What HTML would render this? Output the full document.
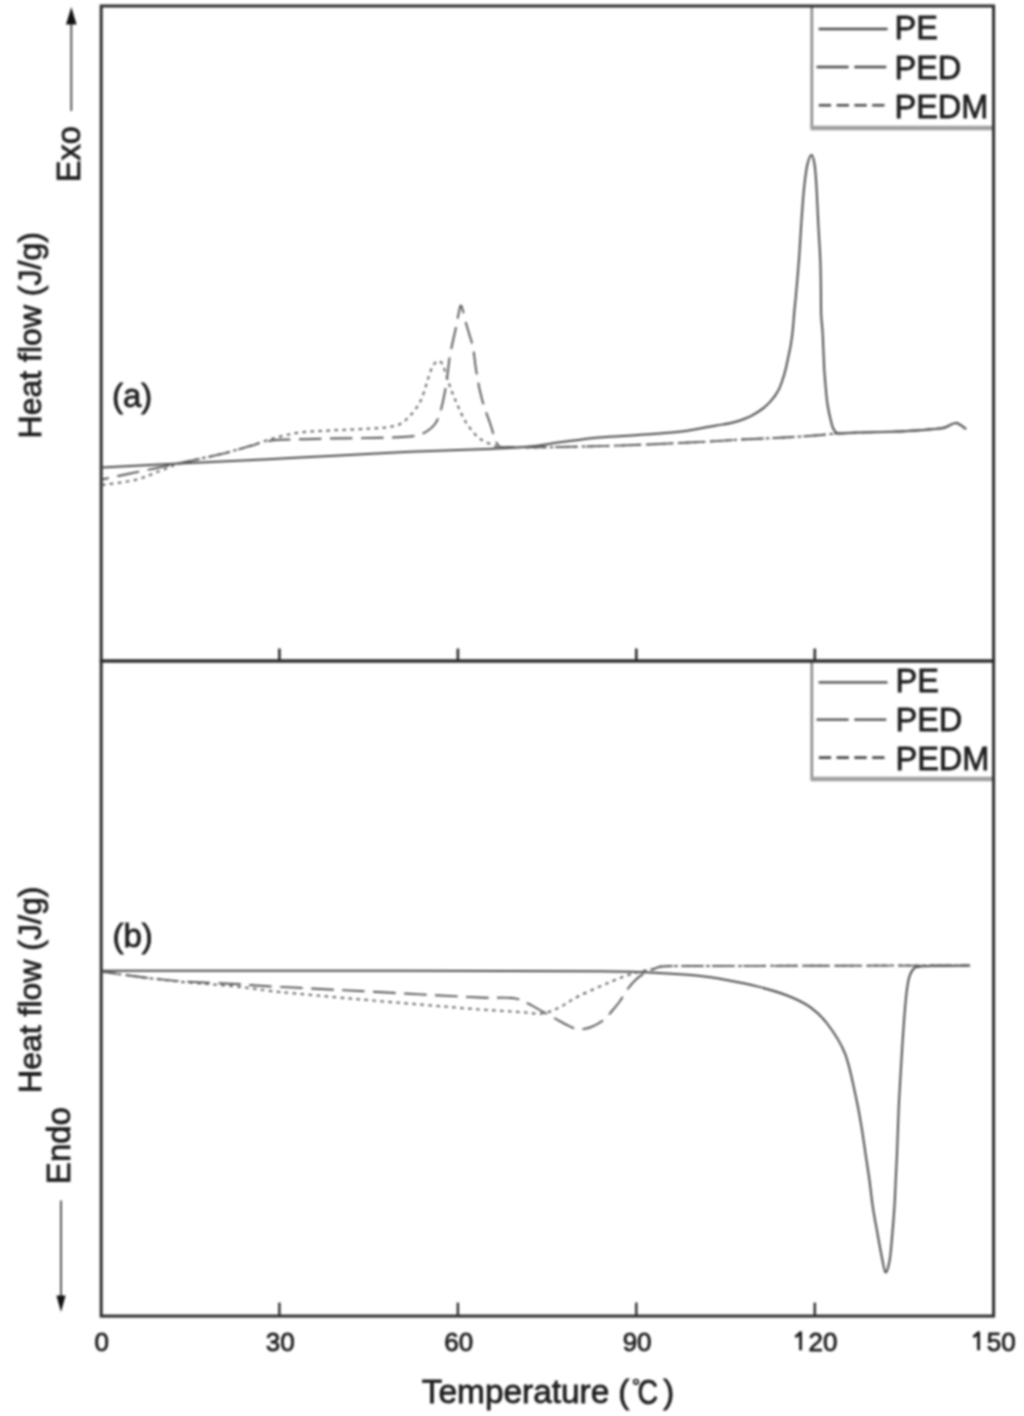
<!DOCTYPE html>
<html><head><meta charset="utf-8"><title>DSC curves</title><style>
html,body{margin:0;padding:0;background:#fff;width:1024px;height:1416px;overflow:hidden;}
svg{display:block;filter:blur(0.9px);}
text{font-family:"Liberation Sans",sans-serif;fill:#1e1e1e;stroke:#1e1e1e;stroke-width:0.8px;}
</style></head><body>
<svg width="1024" height="1416" viewBox="0 0 1024 1416">
<rect width="1024" height="1416" fill="#fff"/>
<rect x="812" y="6.0" width="181" height="122.0" fill="#fff" stroke="none"/>
<line x1="811.8" y1="6.0" x2="811.8" y2="128.0" stroke="#8a8a8a" stroke-width="2.6"/>
<line x1="810.5" y1="128.0" x2="993" y2="128.0" stroke="#a0a0a0" stroke-width="4.4"/>
<line x1="818.6" y1="29.0" x2="887.5" y2="29.0" stroke="#4a4a4a" stroke-width="2.4"/>
<line x1="816.6" y1="67.0" x2="887" y2="67.0" stroke="#4a4a4a" stroke-width="2.4" stroke-dasharray="32 5.7"/>
<line x1="818.8" y1="105.3" x2="886" y2="105.3" stroke="#4a4a4a" stroke-width="2.6" stroke-dasharray="12.3 5.5"/>
<text x="894.5" y="38.7" font-size="32.5">PE</text>
<text x="894.5" y="78.8" font-size="32.5">PED</text>
<text x="894.5" y="118.0" font-size="32.5">PEDM</text>
<rect x="812" y="661.0" width="181" height="118.0" fill="#fff" stroke="none"/>
<line x1="811.8" y1="661.0" x2="811.8" y2="779.0" stroke="#8a8a8a" stroke-width="2.6"/>
<line x1="810.5" y1="779.0" x2="993" y2="779.0" stroke="#a0a0a0" stroke-width="4.4"/>
<line x1="818.6" y1="682.4" x2="887.5" y2="682.4" stroke="#4a4a4a" stroke-width="2.4"/>
<line x1="816.6" y1="719.6" x2="887" y2="719.6" stroke="#4a4a4a" stroke-width="2.4" stroke-dasharray="32 5.7"/>
<line x1="818.8" y1="757.6" x2="886" y2="757.6" stroke="#4a4a4a" stroke-width="2.6" stroke-dasharray="12.3 5.5"/>
<text x="895.5" y="691.6" font-size="32.5">PE</text>
<text x="895.5" y="731.4" font-size="32.5">PED</text>
<text x="895.5" y="770.3" font-size="32.5">PEDM</text>
<rect x="101.2" y="6.0" width="892.4" height="655.0" fill="none" stroke="#2c2c2c" stroke-width="3"/>
<rect x="101.2" y="661.0" width="892.4" height="655.1" fill="none" stroke="#2c2c2c" stroke-width="3"/>
<line x1="279.4" y1="661.0" x2="279.4" y2="648.5" stroke="#2c2c2c" stroke-width="2.6"/>
<line x1="279.4" y1="1316.1" x2="279.4" y2="1302.6" stroke="#2c2c2c" stroke-width="2.4"/>
<line x1="457.9" y1="661.0" x2="457.9" y2="648.5" stroke="#2c2c2c" stroke-width="2.6"/>
<line x1="457.9" y1="1316.1" x2="457.9" y2="1302.6" stroke="#2c2c2c" stroke-width="2.4"/>
<line x1="636.3" y1="661.0" x2="636.3" y2="648.5" stroke="#2c2c2c" stroke-width="2.6"/>
<line x1="636.3" y1="1316.1" x2="636.3" y2="1302.6" stroke="#2c2c2c" stroke-width="2.4"/>
<line x1="814.8" y1="661.0" x2="814.8" y2="648.5" stroke="#2c2c2c" stroke-width="2.6"/>
<line x1="814.8" y1="1316.1" x2="814.8" y2="1302.6" stroke="#2c2c2c" stroke-width="2.4"/>
<path d="M102.0,467.4 C118.3,466.6 167.0,464.1 200.0,462.5 C233.0,460.9 266.7,459.3 300.0,457.6 C333.3,455.9 370.0,453.7 400.0,452.3 C430.0,450.9 461.7,449.9 480.0,449.2 C498.3,448.5 500.8,448.4 510.0,447.9 C519.2,447.4 526.7,446.9 535.0,446.0 C543.3,445.1 549.3,443.7 560.0,442.3 C570.7,440.9 586.0,438.6 599.0,437.4 C612.0,436.2 625.0,435.9 638.0,435.0 C651.0,434.1 666.7,433.1 677.0,432.0 C687.3,430.9 693.5,429.6 700.0,428.5 C706.5,427.4 711.0,426.5 716.0,425.6 C721.0,424.7 726.0,424.1 730.0,423.2 C734.0,422.3 736.4,421.8 740.0,420.5 C743.6,419.2 747.8,417.8 751.7,415.7 C755.6,413.6 760.5,410.3 763.4,408.1 C766.3,405.9 767.3,404.7 769.3,402.6 C771.2,400.5 773.4,398.1 775.1,395.6 C776.8,393.1 778.3,390.6 779.6,387.8 C780.9,385.0 781.9,381.9 782.9,378.8 C783.9,375.8 784.7,373.1 785.6,369.5 C786.5,365.9 787.4,361.3 788.3,357.0 C789.2,352.7 790.2,348.5 791.0,343.6 C791.8,338.7 792.5,333.0 793.0,327.7 C793.5,322.4 793.9,316.6 794.3,311.8 C794.7,307.0 795.1,304.3 795.6,299.0 C796.1,293.7 796.7,287.3 797.3,280.0 C797.9,272.7 798.7,263.7 799.3,255.0 C799.9,246.3 800.4,237.2 801.0,228.0 C801.6,218.8 802.4,207.3 803.0,200.0 C803.6,192.7 803.8,190.0 804.5,184.0 C805.2,178.0 806.3,168.8 807.5,164.0 C808.7,159.2 810.3,155.0 811.5,155.0 C812.7,155.0 813.7,159.2 814.5,164.0 C815.3,168.8 815.6,173.3 816.3,184.0 C817.0,194.7 817.8,215.3 818.5,228.0 C819.2,240.7 819.9,249.7 820.3,260.0 C820.7,270.3 820.8,280.8 820.9,290.0 C821.0,299.2 820.9,308.2 821.2,315.0 C821.5,321.8 822.1,325.2 822.5,331.0 C822.9,336.8 823.1,343.7 823.4,350.0 C823.7,356.3 823.9,363.2 824.2,369.0 C824.6,374.8 825.0,379.3 825.5,385.0 C826.0,390.7 826.5,397.5 827.3,403.0 C828.1,408.5 829.2,413.8 830.2,418.0 C831.2,422.2 832.0,425.6 833.0,428.0 C834.0,430.4 834.8,431.3 836.0,432.2 C837.2,433.1 836.5,433.3 840.0,433.4 C843.5,433.5 847.7,432.9 857.0,432.6 C866.3,432.3 883.0,432.2 896.0,431.6 C909.0,431.0 926.8,429.6 935.0,428.9 C943.2,428.2 941.5,428.5 945.0,427.5 C948.5,426.5 952.5,422.8 956.0,423.0 C959.5,423.2 964.3,428.0 966.0,429.0" fill="none" stroke="#4a4a4a" stroke-width="2.0" stroke-linejoin="round"/>
<path d="M102.0,479.5 C106.5,478.5 119.8,475.6 129.0,473.7 C138.2,471.8 148.5,469.8 157.0,468.0 C165.5,466.2 169.3,465.3 180.0,463.0 C190.7,460.7 209.7,456.9 221.0,454.2 C232.3,451.5 241.2,448.6 248.0,446.7 C254.8,444.8 257.3,443.7 262.0,442.6 C266.7,441.5 269.7,440.6 276.0,440.0 C282.3,439.4 291.0,439.6 300.0,439.3 C309.0,439.1 316.7,438.8 330.0,438.5 C343.3,438.2 366.7,438.1 380.0,437.8 C393.3,437.5 403.3,437.1 410.0,436.5 C416.7,435.9 417.0,435.5 420.0,434.5 C423.0,433.5 425.5,432.2 428.0,430.5 C430.5,428.8 433.0,426.9 435.0,424.0 C437.0,421.1 438.4,418.0 440.0,413.0 C441.6,408.0 443.3,400.2 444.5,394.0 C445.7,387.8 446.4,382.2 447.3,376.0 C448.2,369.8 448.8,362.5 449.7,357.0 C450.6,351.5 451.5,347.8 452.5,343.0 C453.5,338.2 454.9,332.8 455.9,328.0 C456.9,323.2 457.7,317.8 458.5,314.0 C459.3,310.2 459.9,306.0 460.6,305.5 C461.4,305.0 462.1,308.0 463.0,311.0 C463.9,314.0 465.0,319.5 466.1,323.5 C467.2,327.5 468.3,330.9 469.5,335.0 C470.7,339.1 472.0,342.2 473.1,348.0 C474.2,353.8 475.0,363.2 476.1,370.0 C477.2,376.8 478.2,383.0 479.5,389.0 C480.8,395.0 482.2,400.5 484.0,406.2 C485.8,411.9 488.3,418.0 490.0,423.0 C491.7,428.0 492.8,432.6 494.0,436.0 C495.2,439.4 495.8,441.6 497.0,443.5 C498.2,445.4 498.8,446.6 501.0,447.2 C503.2,447.8 505.2,447.0 510.0,447.0 C514.8,447.0 521.7,447.4 530.0,447.4 C538.3,447.4 545.3,447.3 560.0,447.0 C574.7,446.7 598.5,446.2 618.0,445.6 C637.5,445.0 660.7,443.9 677.0,443.1 C693.3,442.4 705.5,441.7 716.0,441.1 C726.5,440.5 729.5,440.2 740.0,439.6 C750.5,439.1 766.0,438.5 779.0,437.8 C792.0,437.1 808.8,436.0 818.0,435.3 C827.2,434.6 827.5,434.1 834.0,433.6 C840.5,433.2 846.7,432.9 857.0,432.6 C867.3,432.3 883.0,432.2 896.0,431.6 C909.0,431.0 926.8,429.6 935.0,428.9 C943.2,428.2 941.5,428.5 945.0,427.5 C948.5,426.5 952.5,422.8 956.0,423.0 C959.5,423.2 964.3,428.0 966.0,429.0" fill="none" stroke="#575757" stroke-width="1.9" stroke-linejoin="round" stroke-dasharray="22.5 8.5" stroke-dashoffset="15.5"/>
<path d="M102.0,485.0 C107.5,484.2 125.3,482.3 135.0,480.0 C144.7,477.7 152.5,473.8 160.0,471.0 C167.5,468.2 169.8,466.3 180.0,463.5 C190.2,460.7 209.7,456.8 221.0,454.0 C232.3,451.2 241.2,448.5 248.0,446.5 C254.8,444.5 257.3,443.5 262.0,442.0 C266.7,440.5 269.7,439.1 276.0,437.5 C282.3,435.9 291.0,433.7 300.0,432.5 C309.0,431.3 316.7,431.2 330.0,430.5 C343.3,429.8 369.2,428.8 380.0,428.0 C390.8,427.2 391.3,426.6 395.0,425.8 C398.7,425.0 399.7,424.4 402.0,423.0 C404.3,421.6 406.7,419.2 408.7,417.2 C410.7,415.2 412.2,413.4 414.0,411.0 C415.8,408.6 417.9,406.2 419.6,403.0 C421.3,399.8 422.6,396.0 424.0,392.0 C425.4,388.0 426.7,383.1 428.0,379.0 C429.3,374.9 430.7,370.3 432.0,367.5 C433.3,364.7 434.9,363.1 436.0,362.0 C437.1,360.9 437.8,360.8 438.8,361.0 C439.8,361.2 441.0,361.8 442.0,363.5 C443.0,365.2 443.7,367.3 445.0,371.0 C446.3,374.7 448.2,381.4 449.7,385.7 C451.2,390.0 452.6,393.6 454.0,397.0 C455.4,400.4 456.5,402.9 458.0,406.2 C459.5,409.5 461.2,413.6 463.0,417.0 C464.8,420.4 466.3,423.2 468.9,426.7 C471.5,430.1 475.2,435.0 478.4,437.7 C481.6,440.4 485.1,441.6 488.0,443.1 C490.9,444.6 493.2,445.8 496.0,446.5 C498.8,447.2 499.3,447.1 505.0,447.2 C510.7,447.3 520.8,447.4 530.0,447.4 C539.2,447.4 545.3,447.3 560.0,447.0 C574.7,446.7 598.5,446.2 618.0,445.6 C637.5,445.0 660.7,443.9 677.0,443.1 C693.3,442.4 705.5,441.7 716.0,441.1 C726.5,440.5 729.5,440.2 740.0,439.6 C750.5,439.1 766.0,438.5 779.0,437.8 C792.0,437.1 808.8,436.0 818.0,435.3 C827.2,434.6 827.5,434.1 834.0,433.6 C840.5,433.2 846.7,432.9 857.0,432.6 C867.3,432.3 883.0,432.2 896.0,431.6 C909.0,431.0 926.8,429.6 935.0,428.9 C943.2,428.2 941.5,428.5 945.0,427.5 C948.5,426.5 952.5,422.8 956.0,423.0 C959.5,423.2 964.3,428.0 966.0,429.0" fill="none" stroke="#606060" stroke-width="2.0" stroke-linejoin="round" stroke-dasharray="3.5 4.5" stroke-dashoffset="0"/>
<path d="M102.0,970.8 C151.7,970.8 317.0,970.7 400.0,970.8 C483.0,970.9 558.3,971.0 600.0,971.3 C641.7,971.6 633.6,971.8 650.0,972.5 C666.4,973.2 685.6,974.5 698.6,975.8 C711.6,977.1 718.1,978.5 727.9,980.3 C737.7,982.1 747.4,983.9 757.2,986.4 C767.0,988.9 777.7,991.8 786.5,995.2 C795.3,998.6 803.1,1002.1 809.9,1006.9 C816.7,1011.7 821.6,1016.2 827.5,1024.0 C833.4,1031.8 840.3,1041.5 845.1,1053.8 C849.9,1066.1 853.4,1085.8 856.1,1098.0 C858.8,1110.2 859.9,1117.5 861.5,1126.8 C863.1,1136.1 864.2,1144.8 865.5,1153.7 C866.8,1162.7 868.3,1171.5 869.5,1180.5 C870.7,1189.5 871.5,1198.5 872.9,1207.4 C874.2,1216.4 876.1,1225.8 877.6,1234.2 C879.1,1242.6 880.7,1251.6 882.0,1258.0 C883.3,1264.4 884.3,1272.2 885.6,1272.5 C886.9,1272.8 888.6,1266.4 889.7,1260.0 C890.8,1253.6 891.5,1243.0 892.3,1234.2 C893.1,1225.4 893.8,1216.4 894.4,1207.4 C895.0,1198.5 895.3,1189.5 895.7,1180.5 C896.1,1171.5 896.6,1162.7 897.0,1153.7 C897.4,1144.8 897.6,1135.8 898.0,1126.8 C898.4,1117.8 898.4,1113.2 899.1,1100.0 C899.8,1086.8 901.2,1063.6 902.2,1047.9 C903.2,1032.2 904.2,1017.3 905.2,1006.0 C906.2,994.7 907.2,986.1 908.5,980.0 C909.8,973.9 911.1,971.8 913.0,969.5 C914.9,967.2 915.5,967.1 920.0,966.5 C924.5,965.9 931.7,966.2 940.0,966.0 C948.3,965.8 965.0,965.6 970.0,965.5" fill="none" stroke="#4a4a4a" stroke-width="2.0" stroke-linejoin="round"/>
<path d="M102.0,971.7 C109.7,972.7 134.5,976.3 148.0,977.9 C161.5,979.5 168.3,980.4 183.0,981.4 C197.7,982.4 223.2,983.3 236.0,984.0 C248.8,984.7 242.7,984.8 260.0,985.8 C277.3,986.8 313.3,988.6 340.0,990.0 C366.7,991.4 396.7,993.1 420.0,994.4 C443.3,995.6 464.7,996.9 480.0,997.5 C495.3,998.1 504.5,997.2 512.0,998.0 C519.5,998.8 519.9,999.8 525.0,1002.0 C530.1,1004.2 537.3,1008.7 542.5,1011.5 C547.7,1014.3 551.8,1016.7 556.0,1019.0 C560.2,1021.3 564.3,1023.8 568.0,1025.5 C571.7,1027.2 574.3,1028.9 578.0,1029.2 C581.7,1029.5 585.8,1029.0 590.0,1027.5 C594.2,1026.0 599.3,1023.2 603.0,1020.5 C606.7,1017.8 609.2,1014.2 612.0,1011.0 C614.8,1007.8 617.3,1004.8 620.0,1001.0 C622.7,997.2 625.3,992.1 628.0,988.5 C630.7,984.9 633.2,982.1 636.0,979.5 C638.8,976.9 641.8,974.8 645.0,973.0 C648.2,971.2 651.7,969.6 655.0,968.5 C658.3,967.4 657.5,966.7 665.0,966.3 C672.5,965.9 677.5,966.1 700.0,966.0 C722.5,965.9 766.7,965.9 800.0,965.8 C833.3,965.7 871.7,965.6 900.0,965.6 C928.3,965.6 958.3,965.5 970.0,965.5" fill="none" stroke="#575757" stroke-width="1.9" stroke-linejoin="round" stroke-dasharray="22.5 8.5" stroke-dashoffset="7"/>
<path d="M102.0,971.7 C109.7,972.8 134.5,976.3 148.0,978.0 C161.5,979.7 168.3,980.6 183.0,982.0 C197.7,983.4 219.8,984.8 236.0,986.5 C252.2,988.2 261.0,990.0 280.0,992.0 C299.0,994.0 326.7,996.4 350.0,998.5 C373.3,1000.6 398.3,1002.7 420.0,1004.5 C441.7,1006.3 463.3,1008.2 480.0,1009.5 C496.7,1010.8 509.7,1011.3 520.0,1012.0 C530.3,1012.7 535.3,1014.3 542.0,1013.5 C548.7,1012.7 554.0,1009.8 560.0,1007.0 C566.0,1004.2 570.2,1000.4 578.0,996.5 C585.8,992.6 598.9,986.9 607.0,983.4 C615.1,979.9 620.2,977.8 626.5,975.6 C632.8,973.5 640.2,971.7 645.0,970.5 C649.8,969.3 651.7,969.2 655.0,968.5 C658.3,967.8 657.5,966.7 665.0,966.3 C672.5,965.9 677.5,966.1 700.0,966.0 C722.5,965.9 766.7,965.9 800.0,965.8 C833.3,965.7 871.7,965.6 900.0,965.6 C928.3,965.6 958.3,965.5 970.0,965.5" fill="none" stroke="#606060" stroke-width="2.0" stroke-linejoin="round" stroke-dasharray="3.5 4.5" stroke-dashoffset="0"/>
<text x="112" y="406.5" font-size="33">(a)</text>
<text x="112.5" y="946.7" font-size="33">(b)</text>
<text transform="translate(40.8,335.3) rotate(-90)" text-anchor="middle" font-size="32.0">Heat flow (J/g)</text>
<text transform="translate(41.2,989.8) rotate(-90)" text-anchor="middle" font-size="32.0">Heat flow (J/g)</text>
<text transform="translate(79.5,154.2) rotate(-90)" text-anchor="middle" font-size="32.5">Exo</text>
<text transform="translate(70.0,1145.6) rotate(-90)" text-anchor="middle" font-size="33.0">Endo</text>
<line x1="71.3" y1="22" x2="71.3" y2="111" stroke="#444" stroke-width="1.8"/>
<path d="M71.3,7 L76.6,24.5 L66,24.5 Z" fill="#111"/>
<line x1="61" y1="1200.4" x2="61" y2="1297" stroke="#444" stroke-width="1.8"/>
<path d="M61,1312 L65.6,1295.5 L56.4,1295.5 Z" fill="#111"/>
<text x="101.7" y="1350.5" font-size="26" text-anchor="middle">0</text>
<text x="280.2" y="1350.5" font-size="26" text-anchor="middle">30</text>
<text x="458.7" y="1350.5" font-size="26" text-anchor="middle">60</text>
<text x="637.1" y="1350.5" font-size="26" text-anchor="middle">90</text>
<path d="M800.6,1350.3 L800.6,1331.6 M801.2,1332.2 L795.4,1337.2" fill="none" stroke="#1e1e1e" stroke-width="2.9" stroke-linecap="butt"/>
<text x="808.6" y="1350.5" font-size="26">20</text>
<path d="M978.6,1350.3 L978.6,1331.6 M979.2,1332.2 L973.4,1337.2" fill="none" stroke="#1e1e1e" stroke-width="2.9" stroke-linecap="butt"/>
<text x="986.8" y="1350.5" font-size="26">50</text>
<text x="421.8" y="1402.7" font-size="33.4">Temperature</text>
<text x="618.3" y="1402.7" font-size="33">(</text>
<circle cx="636" cy="1381.8" r="2.3" fill="none" stroke="#1e1e1e" stroke-width="1.7"/>
<text transform="translate(637.6,1403.5) scale(0.86,1.04)" font-size="33">C</text>
<text x="663.2" y="1402.7" font-size="33">)</text>
</svg>
</body></html>
